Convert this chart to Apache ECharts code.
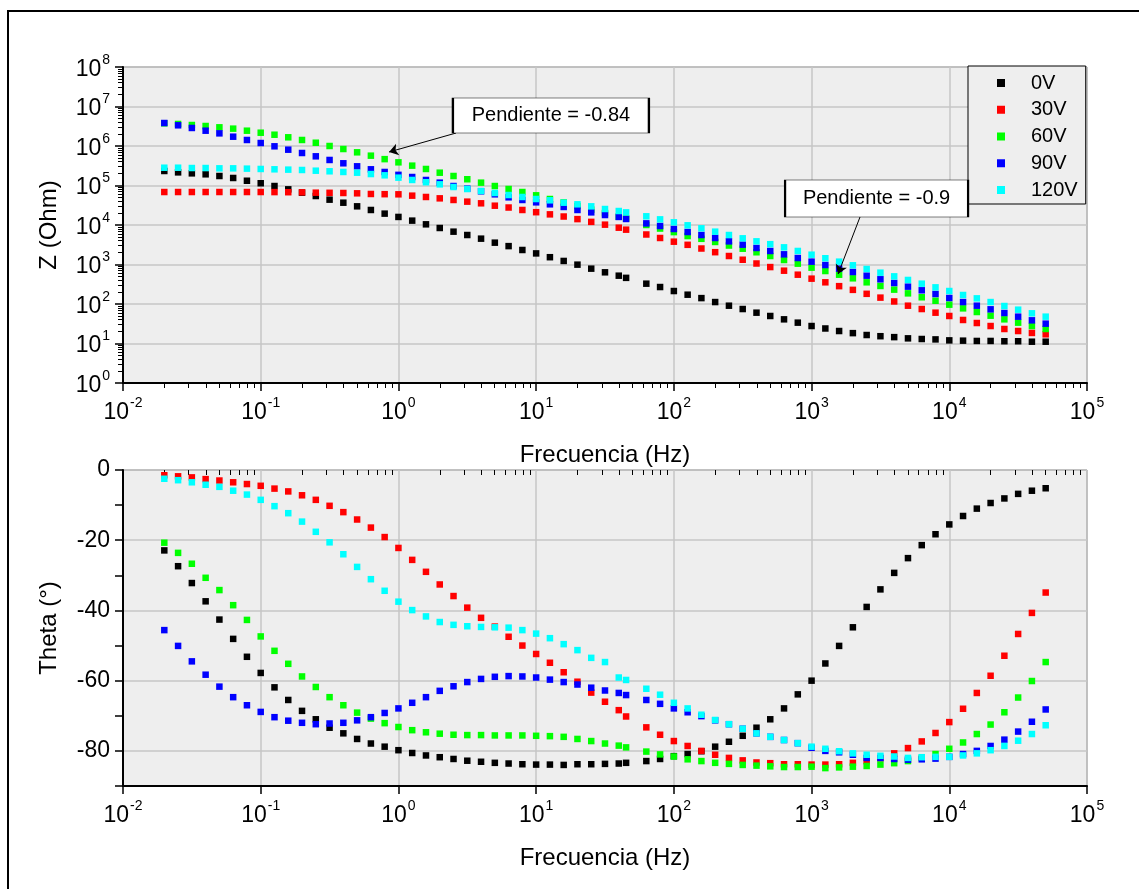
<!DOCTYPE html>
<html>
<head>
<meta charset="utf-8">
<script src="https://cdn.jsdelivr.net/npm/echarts@6/dist/echarts.min.js"></script>
<style>
html, body { margin: 0; padding: 0; background: #fff; }
#chart { width: 1139px; height: 889px; }
</style>
</head>
<body>
<div id="chart"></div>
<script>
// frecuencias medidas (Hz), sin el punto de 50 Hz
const freqHz = [0.01995, 0.02512, 0.03162, 0.03981, 0.05012, 0.0631, 0.07943, 0.1, 0.1259, 0.1585,
  0.1995, 0.2512, 0.3162, 0.3981, 0.5012, 0.631, 0.7943, 1, 1.259, 1.585,
  1.995, 2.512, 3.162, 3.981, 5.012, 6.31, 7.943, 10, 12.59, 15.85,
  19.95, 25.12, 31.62, 39.81, 45, 63.1, 79.43, 100, 125.9, 158.5,
  199.5, 251.2, 316.2, 398.1, 501.2, 631, 794.3, 1000, 1259, 1585,
  1995, 2512, 3162, 3981, 5012, 6310, 7943, 10000, 12589, 15849,
  19953, 25119, 31623, 39811, 50119];

const voltages = ['0V', '30V', '60V', '90V', '120V'];
const colors = ['#000000', '#ff0000', '#00ff00', '#0000ff', '#00ffff'];

// |Z| (Ohm)
const zOhm0V = [2.33e5, 2.15e5, 2.03e5, 1.92e5, 1.74e5, 1.55e5, 1.32e5, 1.14e5, 9.7e4, 8.0e4,
  6.58e4, 5.42e4, 4.38e4, 3.67e4, 2.97e4, 2.40e4, 1.94e4, 1.60e4, 1.29e4, 1.04e4,
  8400, 6780, 5580, 4510, 3570, 2920, 2330, 1910, 1530, 1230,
  991, 785, 634, 521, 459, 327, 269, 213, 172, 141,
  112, 90.6, 74.6, 60.3, 49.7, 40.9, 33.7, 27.7, 24.0, 20.7,
  18.3, 16.4, 15.3, 14.5, 13.5, 13.0, 12.7, 12.0, 11.8, 11.6,
  11.6, 11.4, 11.4, 11.1, 11.1];
const zOhm30V = [6.84e4, 6.84e4, 6.84e4, 6.84e4, 6.84e4, 6.84e4, 6.84e4, 6.84e4, 6.81e4, 6.76e4,
  6.71e4, 6.58e4, 6.53e4, 6.46e4, 6.34e4, 6.10e4, 6.03e4, 5.98e4, 5.53e4, 5.12e4,
  4.73e4, 4.30e4, 3.90e4, 3.54e4, 3.08e4, 2.77e4, 2.40e4, 2.11e4, 1.86e4, 1.64e4,
  1.41e4, 1.20e4, 1.02e4, 8550, 7620, 5750, 4690, 3780, 3150, 2540,
  2050, 1640, 1320, 1060, 861, 697, 552, 438, 354, 283,
  228, 181, 145, 116, 90.6, 74.6, 60.3, 49.7, 39.4, 33.0,
  27.7, 23.3, 20.7, 18.5, 17.1];
const zOhm60V = [3.75e6, 3.61e6, 3.40e6, 3.21e6, 2.97e6, 2.75e6, 2.44e6, 2.17e6, 1.93e6, 1.66e6,
  1.42e6, 1.21e6, 1.0e6, 8.39e5, 6.92e5, 5.69e5, 4.65e5, 3.86e5, 3.18e5, 2.62e5,
  2.11e5, 1.74e5, 1.44e5, 1.18e5, 9.7e4, 8.15e4, 6.84e4, 5.64e4, 4.55e4, 3.72e4,
  3.02e4, 2.45e4, 2.0e4, 1.62e4, 1.46e4, 1.0e4, 8130, 6610, 5250, 4470,
  3720, 3020, 2510, 2040, 1640, 1300, 1050, 832, 684, 552,
  447, 354, 286, 231, 186, 148, 121, 96.2, 77.6, 62.7,
  50.6, 40.9, 33.7, 27.7, 23.3];
const zOhm90V = [3.82e6, 3.34e6, 2.86e6, 2.44e6, 2.09e6, 1.72e6, 1.42e6, 1.19e6, 9.82e5, 8.07e5,
  6.65e5, 5.48e5, 4.43e5, 3.65e5, 3.06e5, 2.57e5, 2.20e5, 1.86e5, 1.64e5, 1.38e5,
  1.18e5, 9.7e4, 8.32e4, 7.13e4, 5.98e4, 5.02e4, 4.30e4, 3.75e4, 3.34e4, 2.86e4,
  2.40e4, 2.09e4, 1.79e4, 1.60e4, 1.42e4, 1.10e4, 9440, 7930, 6650, 5580,
  4690, 3860, 3180, 2620, 2200, 1810, 1460, 1180, 971, 785,
  646, 521, 422, 340, 275, 222, 179, 142, 112, 90.6,
  73.3, 59.2, 47.8, 38.6, 31.8];
const zOhm120V = [2.82e5, 2.82e5, 2.77e5, 2.77e5, 2.72e5, 2.72e5, 2.67e5, 2.62e5, 2.57e5, 2.52e5,
  2.47e5, 2.37e5, 2.29e5, 2.20e5, 2.11e5, 1.95e5, 1.81e5, 1.58e5, 1.38e5, 1.21e5,
  1.07e5, 9.16e4, 8.15e4, 7.26e4, 6.46e4, 5.74e4, 5.12e4, 4.55e4, 4.22e4, 3.67e4,
  3.34e4, 2.97e4, 2.54e4, 2.26e4, 2.09e4, 1.66e4, 1.39e4, 1.17e4, 9820, 8240,
  6780, 5580, 4600, 3860, 3270, 2720, 2200, 1770, 1440, 1180,
  955, 769, 621, 501, 406, 327, 264, 213, 169, 139,
  112, 88.9, 71.8, 58.1, 47.8];

// fase (grados)
const thetaDeg0V = [-22.9, -27.4, -32.2, -37.4, -42.6, -48.1, -53.2, -57.8, -61.9, -65.5,
  -68.6, -71.0, -73.4, -75.0, -76.6, -77.9, -78.8, -79.8, -80.6, -81.3,
  -81.8, -82.3, -82.8, -83.1, -83.4, -83.6, -83.8, -83.9, -83.9, -84.0,
  -83.8, -83.8, -83.7, -83.6, -83.4, -82.9, -82.3, -81.5, -80.9, -80.1,
  -78.8, -77.4, -75.7, -73.4, -71.0, -67.9, -63.9, -60.0, -55.1, -50.1,
  -44.8, -39.0, -34.0, -29.3, -25.1, -21.4, -18.3, -15.5, -13.1, -11.0,
  -9.4, -8.1, -6.8, -5.9, -5.2];
const thetaDeg30V = [-1.5, -1.8, -2.1, -2.6, -3.0, -3.5, -4.0, -4.5, -5.3, -6.1,
  -7.2, -8.5, -10.2, -12.0, -14.1, -16.4, -19.1, -22.2, -25.6, -29.0,
  -32.6, -35.9, -39.2, -42.1, -44.6, -47.5, -50.0, -52.4, -54.9, -57.6,
  -60.3, -63.4, -66.0, -68.4, -70.2, -73.3, -75.4, -77.2, -78.6, -80.0,
  -81.1, -82.0, -82.7, -83.3, -83.5, -83.8, -83.8, -83.9, -83.9, -83.8,
  -83.4, -82.9, -82.1, -80.7, -79.2, -77.3, -74.9, -71.8, -68.0, -63.5,
  -58.6, -52.9, -46.7, -40.7, -34.9];
const thetaDeg60V = [-20.7, -23.6, -26.7, -30.7, -34.2, -38.5, -42.7, -47.4, -51.5, -55.2,
  -58.8, -61.8, -64.7, -67.0, -69.1, -70.8, -72.1, -73.2, -74.1, -74.7,
  -75.1, -75.4, -75.5, -75.5, -75.6, -75.6, -75.6, -75.7, -75.8, -76.0,
  -76.6, -77.2, -77.9, -78.5, -79.0, -80.2, -81.0, -81.6, -82.4, -82.9,
  -83.4, -83.7, -84.0, -84.2, -84.4, -84.6, -84.6, -84.5, -84.9, -84.7,
  -84.5, -84.3, -83.9, -83.5, -82.9, -82.0, -80.9, -79.4, -77.6, -75.2,
  -72.5, -69.0, -64.8, -60.1, -54.7];
const thetaDeg90V = [-45.6, -50.1, -54.5, -58.3, -61.7, -64.7, -67.0, -68.9, -70.4, -71.4,
  -72.0, -72.4, -72.2, -72.0, -71.3, -70.4, -69.2, -67.9, -66.3, -64.7,
  -62.9, -61.6, -60.4, -59.5, -58.9, -58.7, -58.8, -59.1, -59.7, -60.4,
  -61.1, -62.0, -62.8, -63.5, -64.1, -65.5, -66.6, -67.9, -69.0, -70.1,
  -71.3, -72.4, -73.7, -75.0, -76.0, -76.9, -77.8, -79.1, -80.0, -80.4,
  -81.1, -82.0, -82.0, -82.3, -82.5, -82.4, -82.2, -81.7, -80.9, -80.0,
  -78.6, -76.8, -74.5, -71.7, -68.2];
const thetaDeg120V = [-2.5, -2.9, -3.5, -4.2, -4.8, -5.9, -7.0, -8.5, -10.3, -12.3,
  -14.7, -17.6, -20.6, -24.0, -27.6, -31.1, -34.4, -37.5, -39.9, -41.7,
  -43.3, -44.1, -44.5, -44.7, -44.8, -44.9, -45.6, -46.6, -47.9, -49.6,
  -51.3, -53.5, -54.7, -59.1, -59.8, -62.3, -64.0, -66.3, -67.9, -69.7,
  -71.2, -72.4, -73.7, -75.0, -76.0, -76.9, -77.8, -78.8, -79.4, -80.1,
  -80.7, -81.1, -81.4, -81.6, -82.0, -81.8, -81.7, -81.7, -81.3, -80.7,
  -79.8, -78.6, -77.1, -75.2, -72.7];

const zByVoltage = [zOhm0V, zOhm30V, zOhm60V, zOhm90V, zOhm120V];
const thetaByVoltage = [thetaDeg0V, thetaDeg30V, thetaDeg60V, thetaDeg90V, thetaDeg120V];

// anotaciones (coordenadas de datos: frecuencia, Z)
const notes = [
  {text: 'Pendiente = -0.84', box: [12.8, 5.92e6], size: [196, 35], from: [2.62, 2.13e6], to: [0.855, 7.05e5]},
  {text: 'Pendiente = -0.9', box: [2965, 4.69e4], size: [183, 37], from: [2249, 1.6e4], to: [1558, 574]}
];

// marcas menores de los ejes log
const minorFreq = [];
for (let e = -2; e < 5; e++) for (let m = 2; m <= 9; m++) minorFreq.push(+(m * Math.pow(10, e)).toPrecision(3));
const minorZ = [];
for (let e = 0; e < 8; e++) for (let m = 2; m <= 9; m++) minorZ.push(m * Math.pow(10, e));

const FONT = '"Liberation Sans", Arial, sans-serif';
const chart = echarts.init(document.getElementById('chart'), null, {renderer: 'canvas'});

const logRich = {
  b: {fontSize: 23, fontFamily: FONT, color: '#000', lineHeight: 28, verticalAlign: 'bottom'},
  s: {fontSize: 14, fontFamily: FONT, color: '#000', lineHeight: 28, verticalAlign: 'top', padding: [0, 0, 0, 1]}
};
function logLabel(value) {
  return '{b|10}{s|' + Math.round(Math.log10(value)) + '}';
}

function majorLogAxis(grid, min, max, extra) {
  return Object.assign({
    type: 'log', logBase: 10, gridIndex: grid, min: min, max: max,
    axisLine: {show: true, onZero: false, lineStyle: {color: '#000', width: 2}},
    axisTick: {show: true, length: 8, lineStyle: {color: '#000', width: 1.5}},
    axisLabel: {formatter: logLabel, rich: logRich, margin: 13},
    splitLine: {show: true, lineStyle: {color: '#c6c6c6', width: 1.5}},
    nameTextStyle: {fontSize: 24, fontFamily: FONT, color: '#000'}
  }, extra);
}
function minorLogAxis(grid, min, max, ticks, pos) {
  return {
    type: 'log', logBase: 10, gridIndex: grid, min: min, max: max, position: pos,
    axisLine: {show: false},
    axisTick: {show: true, length: 5, customValues: ticks, lineStyle: {color: '#000', width: 1}},
    axisLabel: {show: false},
    splitLine: {show: false}
  };
}

const xTitle = {name: 'Frecuencia (Hz)', nameLocation: 'middle', nameGap: 60, position: 'bottom'};

const series = [];
voltages.forEach((v, i) => {
  series.push({
    name: v, type: 'scatter', xAxisIndex: 0, yAxisIndex: 0,
    symbol: 'rect', symbolSize: 6.5, itemStyle: {color: colors[i], opacity: 1},
    data: freqHz.map((f, k) => [f, zByVoltage[i][k]])
  });
});
voltages.forEach((v, i) => {
  series.push({
    name: v, type: 'scatter', xAxisIndex: 2, yAxisIndex: 2,
    symbol: 'rect', symbolSize: 6.5, itemStyle: {color: colors[i], opacity: 1},
    data: freqHz.map((f, k) => [f, thetaByVoltage[i][k]])
  });
});
// cajas y flechas de pendiente
series.push({
  type: 'scatter', xAxisIndex: 0, yAxisIndex: 0, data: [], silent: true,
  markPoint: {
    silent: true,
    data: notes.map(n => ({
      coord: n.box, symbol: 'rect', symbolSize: n.size,
      itemStyle: {color: '#ffffff', borderColor: '#000', borderWidth: 1, opacity: 1},
      label: {show: true, position: 'inside', formatter: n.text, color: '#000', fontSize: 20, fontFamily: FONT}
    }))
  },
  markLine: {
    silent: true, symbol: ['none', 'arrow'], symbolSize: 9,
    lineStyle: {color: '#000', width: 1, type: 'solid', opacity: 1},
    label: {show: false},
    data: notes.map(n => [{coord: n.from}, {coord: n.to}])
  }
});

chart.setOption({
  animation: false,
  backgroundColor: '#ffffff',
  textStyle: {fontFamily: FONT},
  graphic: [
    {type: 'line', silent: true, shape: {x1: 7, y1: 11, x2: 1139, y2: 11}, style: {stroke: '#000', lineWidth: 2}},
    {type: 'line', silent: true, shape: {x1: 8, y1: 10, x2: 8, y2: 889}, style: {stroke: '#000', lineWidth: 2}}
  ],
  grid: [
    {left: 123, top: 67, width: 964, height: 316, show: true, backgroundColor: '#eeeeee', borderColor: '#666', borderWidth: 1},
    {left: 123, top: 470, width: 964, height: 316, show: true, backgroundColor: '#eeeeee', borderColor: '#666', borderWidth: 1}
  ],
  legend: {
    orient: 'vertical', left: 968, top: 66,
    data: voltages, icon: 'rect', itemWidth: 8, itemHeight: 8, itemGap: 6.75,
    backgroundColor: '#eeeeee', borderColor: '#000', borderWidth: 1,
    padding: [7, 8, 4, 29],
    textStyle: {fontSize: 20, fontFamily: FONT, color: '#000', lineHeight: 20, padding: [0, 0, 0, 21]}
  },
  xAxis: [
    majorLogAxis(0, 0.01, 1e5, xTitle),
    minorLogAxis(0, 0.01, 1e5, minorFreq, 'bottom'),
    majorLogAxis(1, 0.01, 1e5, xTitle),
    minorLogAxis(1, 0.01, 1e5, minorFreq, 'bottom')
  ],
  yAxis: [
    majorLogAxis(0, 1, 1e8, {name: 'Z (Ohm)', nameLocation: 'middle', nameGap: 62, position: 'left'}),
    minorLogAxis(0, 1, 1e8, minorZ, 'left'),
    {
      type: 'value', gridIndex: 1, min: -90, max: 0, interval: 10, position: 'left',
      name: 'Theta (°)', nameLocation: 'middle', nameGap: 62,
      nameTextStyle: {fontSize: 24, fontFamily: FONT, color: '#000'},
      axisLine: {show: true, onZero: false, lineStyle: {color: '#000', width: 2}},
      axisTick: {show: true, length: 8, lineStyle: {color: '#000', width: 1.5}},
      axisLabel: {
        formatter: v => (v % 20 === 0 ? String(v) : ''),
        fontSize: 23, fontFamily: FONT, color: '#000', margin: 13
      },
      splitLine: {show: true, lineStyle: {color: ['rgba(0,0,0,0)', '#c6c6c6'], width: 1.5}}
    }
  ],
  series: series
});
</script>
</body>
</html>
